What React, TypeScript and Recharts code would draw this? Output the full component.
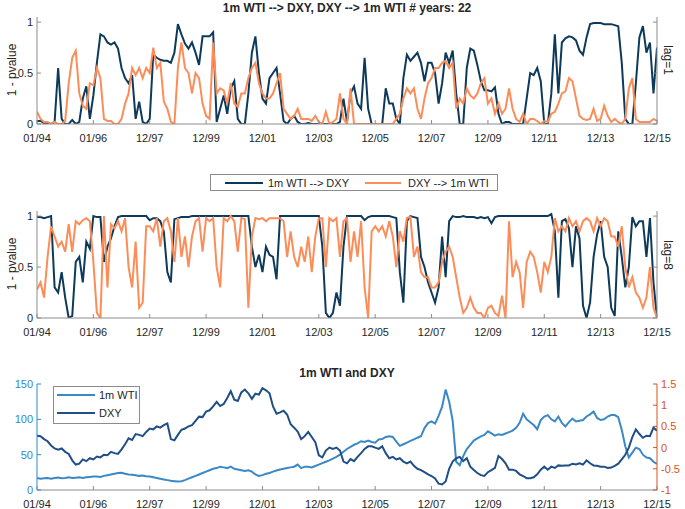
import React from "react";
import { LineChart, Line, XAxis, YAxis } from "recharts";

// x positions are sample indices (one sample every ~1.5 months, 16 per tick interval)
const X_TICKS = [0, 16, 32, 48, 64, 80, 96, 112, 128, 144, 160, 176];
const X_LABELS = ["01/94", "01/96", "12/97", "12/99", "12/01", "12/03", "12/05", "12/07", "12/09", "12/11", "12/13", "12/15"];
const P_TICKS = [0, 0.5, 1];
const WTI_TICKS = [0, 50, 100, 150];
const DXY_TICKS = [-1, -0.5, 0, 0.5, 1, 1.5];

// lag=1: 1m WTI --> DXY
const LAG1_WTI_DXY = [
  0.03, 0.03, 0.01, 0.01, 0.0, 0.02, 0.55, 0.05, 0.0, 0.0, 0.04, 0.0, 0.02, 0.25, 0.37, 0.05,
  0.28, 0.6, 0.88, 0.86, 0.8, 0.78, 0.8, 0.74, 0.55, 0.45, 0.4, 0.48, 0.05, 0.22, 0.02, 0.0,
  0.05, 0.68, 0.65, 0.63, 0.62, 0.62, 0.6, 0.7, 0.98, 0.88, 0.79, 0.74, 0.8, 0.7, 0.58, 0.86,
  0.86, 0.86, 0.9, 0.02, 0.15, 0.28, 0.1, 0.35, 0.42, 0.05, 0.0, 0.0, 0.3, 0.7, 0.86, 0.5,
  0.25, 0.2, 0.45, 0.5, 0.55, 0.3, 0.03, 0.0, 0.05, 0.08, 0.02, 0.0, 0.0, 0.01, 0.0, 0.0,
  0.0, 0.0, 0.0, 0.0, 0.0, 0.0, 0.02, 0.25, 0.02, 0.3, 0.37, 0.2, 0.15, 0.65, 0.15, 0.0,
  0.0, 0.0, 0.0, 0.35, 0.2, 0.2, 0.05, 0.0, 0.45, 0.68, 0.62, 0.66, 0.7, 0.6, 0.42, 0.6,
  0.6, 0.5, 0.2, 0.4, 0.7, 0.6, 0.72, 0.3, 0.0, 0.0, 0.55, 0.74, 0.72, 0.58, 0.42, 0.33,
  0.33, 0.32, 0.36, 0.1, 0.0, 0.02, 0.02, 0.0, 0.0, 0.0, 0.0, 0.25, 0.5, 0.48, 0.55, 0.42,
  0.0, 0.0, 0.3, 0.88, 0.3, 0.8, 0.84, 0.86, 0.85, 0.82, 0.72, 0.68, 0.85, 0.98, 0.99, 0.99,
  0.99, 0.98, 0.98, 0.98, 0.97, 0.96, 0.6, 0.05, 0.0, 0.0, 0.4, 0.85, 0.96, 0.7, 0.8, 0.3, 0.75,
];

// lag=1: DXY --> 1m WTI
const LAG1_DXY_WTI = [
  0.12, 0.05, 0.02, 0.02, 0.0, 0.02, 0.0, 0.0, 0.03, 0.4, 0.65, 0.72, 0.3, 0.18, 0.15, 0.4,
  0.38, 0.55, 0.45, 0.05, 0.03, 0.03, 0.0, 0.0, 0.05, 0.2, 0.3, 0.55, 0.48, 0.55, 0.45, 0.55,
  0.5, 0.75, 0.55, 0.6, 0.22, 0.15, 0.02, 0.0, 0.55, 0.8, 0.55, 0.5, 0.3, 0.5, 0.45, 0.2,
  0.08, 0.05, 0.8, 0.3, 0.35, 0.33, 0.2, 0.4, 0.2, 0.17, 0.3, 0.3, 0.45, 0.55, 0.6, 0.4,
  0.3, 0.25, 0.25, 0.3, 0.4, 0.5, 0.15, 0.1, 0.05, 0.08, 0.15, 0.05, 0.05, 0.05, 0.03, 0.08,
  0.02, 0.0, 0.12, 0.0, 0.02, 0.05, 0.3, 0.05, 0.0, 0.35, 0.0, 0.0, 0.0, 0.0, 0.0, 0.0,
  0.0, 0.0, 0.0, 0.0, 0.0, 0.0, 0.05, 0.1, 0.25, 0.35, 0.3, 0.35, 0.15, 0.05, 0.25, 0.4,
  0.45, 0.55, 0.55, 0.6, 0.62, 0.55, 0.6, 0.15, 0.25, 0.2, 0.35, 0.28, 0.25, 0.3, 0.4, 0.45,
  0.2, 0.25, 0.1, 0.2, 0.1, 0.15, 0.35, 0.15, 0.05, 0.02, 0.1, 0.0, 0.05, 0.05, 0.03, 0.0,
  0.03, 0.02, 0.1, 0.12, 0.2, 0.3, 0.32, 0.45, 0.42, 0.25, 0.08, 0.05, 0.04, 0.05, 0.15, 0.03,
  0.05, 0.18, 0.08, 0.02, 0.05, 0.02, 0.0, 0.05, 0.35, 0.45, 0.05, 0.02, 0.02, 0.02, 0.02, 0.05, 0.03,
];

// lag=8: 1m WTI --> DXY
const LAG8_WTI_DXY = [
  0.99, 0.99, 0.98, 0.99, 1.0, 0.3, 0.25, 0.45, 0.2, 0.0, 0.02, 0.55, 0.6, 0.35, 0.75, 0.68,
  1.0, 0.99, 0.99, 0.55, 0.7, 0.78, 0.9, 0.99, 1.0, 1.0, 1.0, 1.0, 1.0, 1.0, 1.0, 1.0,
  0.96, 0.98, 0.98, 0.95, 0.85, 0.45, 0.35, 0.97, 0.98, 0.99, 0.99, 0.99, 1.0, 1.0, 1.0, 1.0,
  1.0, 1.0, 1.0, 1.0, 1.0, 1.0, 1.0, 1.0, 1.0, 1.0, 1.0, 1.0, 1.0, 0.7, 0.5, 0.62,
  0.45, 0.7, 0.62, 0.6, 0.38, 1.0, 1.0, 1.0, 1.0, 1.0, 1.0, 1.0, 1.0, 1.0, 1.0, 1.0,
  1.0, 0.7, 0.05, 0.0, 0.05, 0.25, 0.12, 0.7, 1.0, 1.0, 1.0, 1.0, 1.0, 0.96, 0.99, 1.0,
  1.0, 1.0, 1.0, 1.0, 1.0, 0.99, 0.98, 0.45, 0.15, 0.95, 1.0, 0.99, 0.98, 0.6, 0.5, 0.35,
  0.25, 0.15, 0.3, 0.8, 0.4, 0.95, 1.0, 0.99, 0.99, 1.0, 0.99, 0.99, 0.99, 0.98, 0.99, 0.98,
  0.99, 0.93, 0.99, 1.0, 1.0, 1.0, 1.0, 1.0, 1.0, 1.0, 1.0, 1.0, 1.0, 1.0, 1.0, 1.0,
  1.0, 1.0, 1.02, 0.85, 0.2, 0.95, 0.97, 0.88, 0.5, 0.9, 0.78, 0.12, 0.0, 0.15, 0.6, 0.82,
  0.95, 0.6, 0.5, 0.1, 0.02, 0.85, 0.6, 0.3, 0.5, 0.99, 0.9, 0.95, 0.95, 0.6, 0.98, 0.35, 0.0,
];

// lag=8: DXY --> 1m WTI
const LAG8_DXY_WTI = [
  0.28, 0.35, 0.2, 0.6, 0.9, 0.8, 0.7, 0.75, 0.65, 0.92, 0.65, 0.95, 0.92, 0.96, 0.98, 0.95,
  0.55, 0.05, 0.0, 1.0, 0.3, 0.92, 0.88, 0.95, 0.85, 0.98, 0.5, 0.3, 0.75, 0.1, 0.15, 0.9,
  0.9, 0.85, 0.98, 0.7, 0.95, 0.98, 0.85, 0.55, 0.98, 0.6, 0.8, 0.5, 0.8, 0.95, 0.98, 0.65,
  0.98, 0.95, 0.98, 0.5, 0.3, 0.98, 0.95, 1.0, 0.95, 0.65, 0.98, 0.97, 0.1, 0.8, 0.98, 0.97,
  0.98, 0.95, 0.98, 0.98, 0.98, 0.98, 0.95, 0.6, 0.85, 0.6, 0.5, 0.7, 0.55, 0.8, 0.45, 0.8,
  0.98, 0.98, 0.5, 0.98, 0.95, 0.98, 0.6, 0.95, 0.98, 0.55, 0.85, 0.6, 0.95, 0.3, 0.0, 0.85,
  0.9, 0.85, 0.9, 0.8, 0.95, 0.8, 0.5, 0.85, 0.75, 0.98, 0.99, 0.6, 0.7, 0.45, 0.4, 0.4,
  0.3, 0.3, 0.35, 0.55, 0.65, 0.7, 0.6, 0.4, 0.2, 0.05, 0.1, 0.2, 0.1, 0.05, 0.05, 0.0,
  0.1, 0.12, 0.05, 0.02, 0.22, 0.0, 0.95, 0.4, 0.55, 0.45, 0.1, 0.55, 0.65, 0.6, 0.45, 0.25,
  0.55, 0.45, 0.6, 0.98, 0.85, 0.9, 0.85, 0.98, 0.9, 0.95, 0.85, 0.95, 0.98, 0.95, 0.85, 0.98,
  0.9, 0.98, 0.95, 0.8, 0.8, 0.7, 0.9, 0.5, 0.3, 0.4, 0.25, 0.2, 0.1, 0.2, 0.5, 0.1, 0.0,
];

// 1m WTI price (left axis)
const WTI = [
  17, 16, 16.5, 17, 16, 17, 17.5, 16.5, 17, 18, 17, 17.5, 18, 17, 18, 18.5,
  19, 19, 18.5, 20, 21, 22, 23, 24, 24.5, 23, 22, 21.5, 21, 20, 20.5, 19.5,
  19, 18, 17, 16, 15, 14, 13, 12.5, 12, 12.5, 14, 16, 18, 20, 22, 24,
  26, 28, 30, 31, 33, 32, 31, 33, 30, 29, 28, 27, 28, 26, 22, 20,
  21, 23, 24, 26, 27.5, 29, 30, 31, 32, 33, 36, 31, 33, 33, 32, 34,
  36, 38, 40, 42, 44.5, 47, 50, 54, 58, 61, 64, 66, 69, 68, 70, 68,
  67, 71.6, 72, 75, 76, 75, 68.5, 62.5, 64.7, 67, 69.5, 71.6, 74, 76, 87.6, 94.6,
  97, 94, 105, 118, 142, 125, 98, 40, 35, 48, 58, 64, 70, 73, 76, 78,
  83, 80, 77, 79, 78, 80, 82, 84, 88, 95, 108, 100, 96, 92, 86, 99,
  104, 106, 100, 97, 104, 95, 90, 96, 101, 97, 98, 99, 104, 107, 111, 102,
  99, 100, 104, 106, 106, 103, 85, 62, 46, 53, 60, 58, 50, 46, 45, 40, 37,
];

// DXY (right axis)
const DXY = [
  0.28, 0.27, 0.2, 0.15, 0.05, -0.02, -0.05, -0.02, -0.1, -0.15, -0.3, -0.4, -0.38, -0.28, -0.32, -0.25,
  -0.28, -0.21, -0.23, -0.17, -0.18, -0.1, -0.13, -0.15, -0.04, 0.08, 0.22, 0.18, 0.32, 0.3, 0.27, 0.37,
  0.45, 0.43, 0.5, 0.47, 0.53, 0.57, 0.2, 0.17, 0.3, 0.42, 0.45, 0.5, 0.53, 0.63, 0.73, 0.72,
  0.85, 0.88, 0.97, 1.08, 0.98, 1.03, 1.17, 1.33, 1.13, 1.1, 1.3, 1.37, 1.28, 1.15, 1.27, 1.25,
  1.4, 1.35, 1.28, 0.97, 0.8, 0.83, 0.87, 0.78, 0.55, 0.47, 0.38, 0.2, 0.27, 0.37, 0.25, 0.13,
  -0.18, -0.23, -0.07, 0, -0.03, 0, -0.07, -0.33, -0.37, -0.27, -0.32, -0.22, -0.13, -0.03, 0.03, 0.03,
  0, -0.03, 0.03, -0.13, -0.25, -0.22, -0.28, -0.25, -0.33, -0.37, -0.33, -0.43, -0.5, -0.53, -0.58, -0.63,
  -0.67, -0.73, -0.85, -0.87, -0.8, -0.5, -0.33, -0.25, -0.22, -0.32, -0.25, -0.45, -0.53, -0.6, -0.65, -0.67,
  -0.58, -0.53, -0.48, -0.2, -0.27, -0.37, -0.52, -0.52, -0.55, -0.63, -0.67, -0.72, -0.72, -0.7, -0.63, -0.52,
  -0.45, -0.52, -0.45, -0.48, -0.42, -0.43, -0.42, -0.42, -0.38, -0.4, -0.37, -0.4, -0.3, -0.37, -0.42, -0.43,
  -0.45, -0.45, -0.48, -0.47, -0.43, -0.38, -0.28, -0.17, 0, 0.25, 0.43, 0.32, 0.23, 0.28, 0.27, 0.47, 0.4,
];

const rows = WTI.map((_, i) => ({
  i,
  l1a: LAG1_WTI_DXY[i],
  l1b: LAG1_DXY_WTI[i],
  l8a: LAG8_WTI_DXY[i],
  l8b: LAG8_DXY_WTI[i],
  wti: WTI[i],
  dxy: DXY[i],
}));

const FONT = '"Liberation Sans", Arial, Helvetica, sans-serif';
const AXIS = "#8c8c8c";
const TEXT = "#262626";
const NAVY = "#0d3a5a";
const ORANGE = "#fc8d59";
const WTI_BLUE = "#3b88c6";
const DXY_BLUE = "#1f4f86";
const LEFT_BLUE = "#3188c9";
const RIGHT_ORANGE = "#d95319";

const bottomTick = (p: any) => (
  <g>
    <line x1={p.x} y1={p.y} x2={p.x} y2={p.y - 4} stroke={AXIS} />
    <text x={p.x} y={p.y + 14} textAnchor="middle" dominantBaseline="central" fontSize={11} fill={TEXT} fontFamily={FONT}>
      {X_LABELS[X_TICKS.indexOf(p.payload.value)]}
    </text>
  </g>
);

const topTick = (p: any) => (
  <line x1={p.x} y1={p.y} x2={p.x} y2={p.y + 4} stroke={AXIS} />
);

const leftTick = (color: string, textColor: string) => (p: any) => (
  <g>
    <line x1={p.x} y1={p.y} x2={p.x + 4} y2={p.y} stroke={color} />
    <text x={p.x - 4} y={p.y} textAnchor="end" dominantBaseline="central" fontSize={11} fill={textColor} fontFamily={FONT}>
      {String(p.payload.value)}
    </text>
  </g>
);

const rightTick = (color: string, showText: boolean) => (p: any) => (
  <g>
    <line x1={p.x} y1={p.y} x2={p.x - 4} y2={p.y} stroke={color} />
    {showText && (
      <text x={p.x + 4} y={p.y} textAnchor="start" dominantBaseline="central" fontSize={11} fill={color} fontFamily={FONT}>
        {String(p.payload.value)}
      </text>
    )}
  </g>
);

function PvaluePanel({ top, a, b }: { top: number; a: string; b: string }) {
  return (
    <div style={{ position: "absolute", left: 0, top }}>
      <LineChart width={685} height={150} data={rows} margin={{ top: 17, right: 0, bottom: 0, left: 0 }}>
        <XAxis xAxisId="b" dataKey="i" type="number" domain={[0, 176]} ticks={X_TICKS} height={26} interval={0}
          tickSize={0} tickMargin={0} tickLine={false} tick={bottomTick} axisLine={{ stroke: AXIS }} allowDataOverflow />
        <XAxis xAxisId="t" dataKey="i" type="number" domain={[0, 176]} ticks={X_TICKS} orientation="top" height={0} interval={0}
          tickSize={0} tickMargin={0} tickLine={false} tick={topTick} axisLine={{ stroke: AXIS }} allowDataOverflow />
        <YAxis yAxisId="l" type="number" domain={[0, 1.05]} ticks={P_TICKS} width={37} interval={0}
          tickSize={0} tickMargin={0} tickLine={false} tick={leftTick(AXIS, TEXT)} axisLine={{ stroke: AXIS }} allowDataOverflow />
        <YAxis yAxisId="r" type="number" domain={[0, 1.05]} ticks={P_TICKS} width={28} orientation="right" interval={0}
          tickSize={0} tickMargin={0} tickLine={false} tick={rightTick(AXIS, false)} axisLine={{ stroke: AXIS }} allowDataOverflow />
        <Line xAxisId="b" yAxisId="l" type="linear" dataKey={a} stroke={NAVY} strokeWidth={2} dot={false} isAnimationActive={false} />
        <Line xAxisId="t" yAxisId="r" type="linear" dataKey={b} stroke={ORANGE} strokeWidth={2} dot={false} isAnimationActive={false} />
      </LineChart>
    </div>
  );
}

const rotated = (x: number, y: number, deg: number, color = TEXT): React.CSSProperties => ({
  position: "absolute",
  left: x,
  top: y,
  transform: `translate(-50%, -50%) rotate(${deg}deg)`,
  whiteSpace: "nowrap",
  fontSize: 12,
  color,
  lineHeight: "14px",
});

const swatch = (color: string, left: number, top: number, width: number): React.CSSProperties => ({
  position: "absolute",
  left,
  top,
  width,
  height: 2,
  background: color,
});

const legendText = (left: number, top: number): React.CSSProperties => ({
  position: "absolute",
  left,
  top,
  lineHeight: "13px",
  whiteSpace: "nowrap",
});

export default function App() {
  return (
    <div style={{ position: "absolute", left: 0, top: 0, width: 685, height: 509, background: "#fff", fontFamily: FONT, color: TEXT, overflow: "hidden" }}>
      <div style={{ position: "absolute", left: 37, top: 1, width: 620, textAlign: "center", fontWeight: "bold", fontSize: 12, lineHeight: "14px" }}>
        1m WTI --&gt; DXY, DXY --&gt; 1m WTI # years: 22
      </div>
      <PvaluePanel top={0} a="l1a" b="l1b" />
      <div style={rotated(12, 70, -90)}>1 - pvalue</div>
      <div style={rotated(668, 60, 90)}>lag=1</div>

      <div style={{ position: "absolute", left: 210, top: 174, width: 288, height: 17, border: `1px solid ${AXIS}`, boxSizing: "border-box", fontSize: 11, background: "#fff" }}>
        <div style={swatch(NAVY, 14, 6.5, 38)} />
        <div style={legendText(57, 1.5)}>1m WTI --&gt; DXY</div>
        <div style={swatch(ORANGE, 154, 6.5, 36)} />
        <div style={legendText(197, 1.5)}>DXY --&gt; 1m WTI</div>
      </div>

      <PvaluePanel top={194} a="l8a" b="l8b" />
      <div style={rotated(12, 264, -90)}>1 - pvalue</div>
      <div style={rotated(668, 255, 90)}>lag=8</div>

      <div style={{ position: "absolute", left: 37, top: 366, width: 620, textAlign: "center", fontWeight: "bold", fontSize: 12, lineHeight: "14px" }}>
        1m WTI and DXY
      </div>
      <div style={{ position: "absolute", left: 0, top: 366 }}>
        <LineChart width={685} height={143} data={rows} margin={{ top: 18, right: 0, bottom: 0, left: 0 }}>
          <XAxis xAxisId="b" dataKey="i" type="number" domain={[0, 176]} ticks={X_TICKS} height={19} interval={0}
            tickSize={0} tickMargin={0} tickLine={false} tick={bottomTick} axisLine={{ stroke: AXIS }} allowDataOverflow />
          <XAxis xAxisId="t" dataKey="i" type="number" domain={[0, 176]} ticks={X_TICKS} orientation="top" height={0} interval={0}
            tickSize={0} tickMargin={0} tickLine={false} tick={topTick} axisLine={{ stroke: AXIS }} allowDataOverflow />
          <YAxis yAxisId="l" type="number" domain={[0, 150]} ticks={WTI_TICKS} width={37} interval={0}
            tickSize={0} tickMargin={0} tickLine={false} tick={leftTick(LEFT_BLUE, LEFT_BLUE)} axisLine={{ stroke: LEFT_BLUE }} allowDataOverflow />
          <YAxis yAxisId="r" type="number" domain={[-1, 1.5]} ticks={DXY_TICKS} width={28} orientation="right" interval={0}
            tickSize={0} tickMargin={0} tickLine={false} tick={rightTick(RIGHT_ORANGE, true)} axisLine={{ stroke: RIGHT_ORANGE }} allowDataOverflow />
          <Line xAxisId="b" yAxisId="l" type="linear" dataKey="wti" stroke={WTI_BLUE} strokeWidth={2} dot={false} isAnimationActive={false} />
          <Line xAxisId="t" yAxisId="r" type="linear" dataKey="dxy" stroke={DXY_BLUE} strokeWidth={2} dot={false} isAnimationActive={false} />
        </LineChart>
      </div>
      <div style={{ position: "absolute", left: 53, top: 386, width: 87, height: 38, border: `1px solid ${AXIS}`, boxSizing: "border-box", fontSize: 11, background: "#fff" }}>
        <div style={swatch(WTI_BLUE, 3, 7, 38)} />
        <div style={legendText(45, 1.5)}>1m WTI</div>
        <div style={swatch(DXY_BLUE, 3, 25, 38)} />
        <div style={legendText(45, 19.5)}>DXY</div>
      </div>
    </div>
  );
}
